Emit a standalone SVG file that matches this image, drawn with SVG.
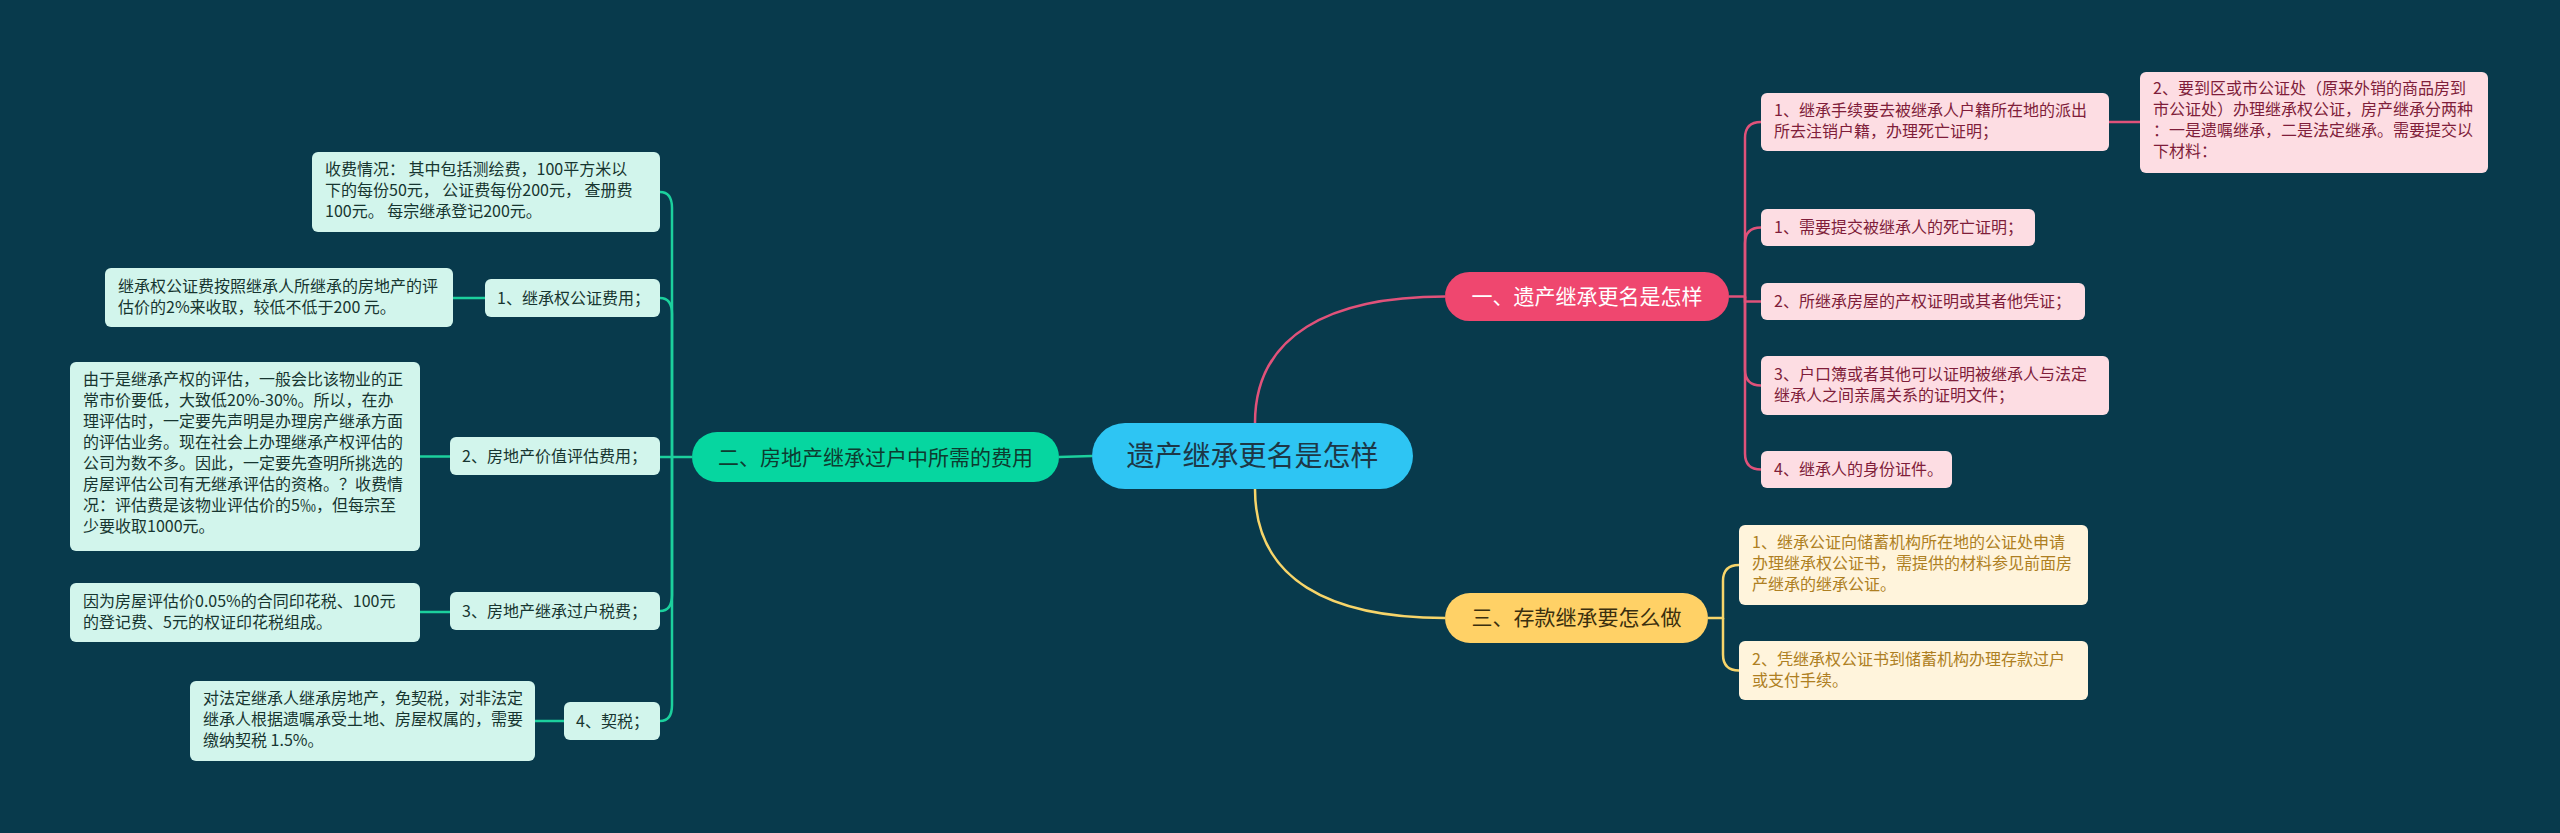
<svg xmlns="http://www.w3.org/2000/svg" width="2560" height="833" viewBox="0 0 2560 833">
<style>
text{font-family:"Noto Sans CJK SC","Noto Sans",sans-serif}
.t16{font-size:16px}
.pk{fill:#FDDDE3}
.pkt{fill:#7F1D3A}
.yl{fill:#FFF4DC}
.ylt{fill:#AE7F22}
.gr{fill:#D2F5EC}
.grt{fill:#173530}
.lp{fill:none;stroke:#E0527A;stroke-width:2.5}
.ly{fill:none;stroke:#F7D56A;stroke-width:2.5}
.lg{fill:none;stroke:#1CD09D;stroke-width:2.5}
</style>
<rect width="2560" height="833" fill="#083A4C"/>
<g id="connectors">
<path class="lp" d="M1255 423 C1255 335 1330 296.5 1445 296.5"/>
<path class="ly" d="M1255 489 C1255 580 1330 618 1445 618"/>
<path class="lg" d="M1092 456 L1059 457"/>
<path class="lp" d="M1729 296.5 H1745 V138 Q1745 122 1761 122"/>
<path class="lp" d="M1745 296.5 V243.5 Q1745 227.5 1761 227.5"/>
<path class="lp" d="M1745 296.5 V301.5 H1761"/>
<path class="lp" d="M1745 296.5 V369.5 Q1745 385.5 1761 385.5"/>
<path class="lp" d="M1745 296.5 V453.5 Q1745 469.5 1761 469.5"/>
<path class="lp" d="M2109 122 H2140"/>
<path class="ly" d="M1708 618 H1723 V581 Q1723 565 1739 565"/>
<path class="ly" d="M1723 618 V654.5 Q1723 670.5 1739 670.5"/>
<path class="lg" d="M692 457 H672 V208 Q672 192 660 192"/>
<path class="lg" d="M672 457 V314 Q672 298 660 298"/>
<path class="lg" d="M672 457 H660"/>
<path class="lg" d="M672 457 V595 Q672 611 660 611"/>
<path class="lg" d="M672 457 V705 Q672 721 660 721"/>
<path class="lg" d="M453 298 H485"/>
<path class="lg" d="M420 456.5 H450"/>
<path class="lg" d="M420 612 H450"/>
<path class="lg" d="M535 721 H564"/>
</g>
<g id="root">
<rect x="1092" y="423" width="321" height="66" rx="33" fill="#2EC5F3"/>
<text x="1252.5" y="466" font-size="28" text-anchor="middle" fill="#1D3746">遗产继承更名是怎样</text>
</g>
<g id="b1">
<rect x="1445" y="272" width="284" height="49" rx="24.5" fill="#EF476F"/>
<text x="1587" y="304" font-size="21" text-anchor="middle" fill="#FFFFFF">一、遗产继承更名是怎样</text>
</g>
<g id="b1c1">
<rect class="pk" x="1761" y="93" width="348" height="58" rx="6"/>
<text class="t16 pkt" x="1774" y="116">1、继承手续要去被继承人户籍所在地的派出</text>
<text class="t16 pkt" x="1774" y="137">所去注销户籍，办理死亡证明；</text>
</g>
<g id="b1c1a">
<rect class="pk" x="2140" y="72" width="348" height="101" rx="6"/>
<text class="t16 pkt" x="2153" y="94">2、要到区或市公证处（原来外销的商品房到</text>
<text class="t16 pkt" x="2153" y="115">市公证处）办理继承权公证，房产继承分两种</text>
<text class="t16 pkt" x="2153" y="136">：一是遗嘱继承，二是法定继承。需要提交以</text>
<text class="t16 pkt" x="2153" y="157">下材料：</text>
</g>
<g id="b1c2">
<rect class="pk" x="1761" y="209" width="274" height="37" rx="6"/>
<text class="t16 pkt" x="1774" y="233">1、需要提交被继承人的死亡证明；</text>
</g>
<g id="b1c3">
<rect class="pk" x="1761" y="283" width="324" height="37" rx="6"/>
<text class="t16 pkt" x="1774" y="307">2、所继承房屋的产权证明或其者他凭证；</text>
</g>
<g id="b1c4">
<rect class="pk" x="1761" y="356" width="348" height="59" rx="6"/>
<text class="t16 pkt" x="1774" y="380">3、户口簿或者其他可以证明被继承人与法定</text>
<text class="t16 pkt" x="1774" y="401">继承人之间亲属关系的证明文件；</text>
</g>
<g id="b1c5">
<rect class="pk" x="1761" y="451" width="191" height="37" rx="6"/>
<text class="t16 pkt" x="1774" y="475">4、继承人的身份证件。</text>
</g>
<g id="b3">
<rect x="1445" y="593" width="263" height="50" rx="25" fill="#FFD166"/>
<text x="1576.5" y="625" font-size="21" text-anchor="middle" fill="#3A2F0E">三、存款继承要怎么做</text>
</g>
<g id="b3c1">
<rect class="yl" x="1739" y="525" width="349" height="80" rx="6"/>
<text class="t16 ylt" x="1752" y="548">1、继承公证向储蓄机构所在地的公证处申请</text>
<text class="t16 ylt" x="1752" y="569">办理继承权公证书，需提供的材料参见前面房</text>
<text class="t16 ylt" x="1752" y="590">产继承的继承公证。</text>
</g>
<g id="b3c2">
<rect class="yl" x="1739" y="641" width="349" height="59" rx="6"/>
<text class="t16 ylt" x="1752" y="665">2、凭继承权公证书到储蓄机构办理存款过户</text>
<text class="t16 ylt" x="1752" y="686">或支付手续。</text>
</g>
<g id="b2">
<rect x="692" y="432" width="367" height="50" rx="25" fill="#06D6A0"/>
<text x="875.5" y="464.5" font-size="21" text-anchor="middle" fill="#0E3B30">二、房地产继承过户中所需的费用</text>
</g>
<g id="b2c0">
<rect class="gr" x="312" y="152" width="348" height="80" rx="6"/>
<text class="t16 grt" x="325" y="175">收费情况： 其中包括测绘费，100平方米以</text>
<text class="t16 grt" x="325" y="196">下的每份50元， 公证费每份200元， 查册费</text>
<text class="t16 grt" x="325" y="217">100元。 每宗继承登记200元。</text>
</g>
<g id="b2c1">
<rect class="gr" x="485" y="279" width="175" height="38" rx="6"/>
<text class="t16 grt" x="497" y="304">1、继承权公证费用；</text>
</g>
<g id="b2c1a">
<rect class="gr" x="105" y="268" width="348" height="59" rx="6"/>
<text class="t16 grt" x="118" y="292">继承权公证费按照继承人所继承的房地产的评</text>
<text class="t16 grt" x="118" y="313">估价的2%来收取，较低不低于200 元。</text>
</g>
<g id="b2c2">
<rect class="gr" x="450" y="437" width="210" height="38" rx="6"/>
<text class="t16 grt" x="462" y="462">2、房地产价值评估费用；</text>
</g>
<g id="b2c2a">
<rect class="gr" x="70" y="362" width="350" height="189" rx="6"/>
<text class="t16 grt" x="83" y="385">由于是继承产权的评估，一般会比该物业的正</text>
<text class="t16 grt" x="83" y="406">常市价要低，大致低20%-30%。所以，在办</text>
<text class="t16 grt" x="83" y="427">理评估时，一定要先声明是办理房产继承方面</text>
<text class="t16 grt" x="83" y="448">的评估业务。现在社会上办理继承产权评估的</text>
<text class="t16 grt" x="83" y="469">公司为数不多。因此，一定要先查明所挑选的</text>
<text class="t16 grt" x="83" y="490">房屋评估公司有无继承评估的资格。？收费情</text>
<text class="t16 grt" x="83" y="511">况：评估费是该物业评估价的5‰，但每宗至</text>
<text class="t16 grt" x="83" y="532">少要收取1000元。</text>
</g>
<g id="b2c3">
<rect class="gr" x="450" y="592" width="210" height="38" rx="6"/>
<text class="t16 grt" x="462" y="617">3、房地产继承过户税费；</text>
</g>
<g id="b2c3a">
<rect class="gr" x="70" y="583" width="350" height="59" rx="6"/>
<text class="t16 grt" x="83" y="607">因为房屋评估价0.05%的合同印花税、100元</text>
<text class="t16 grt" x="83" y="628">的登记费、5元的权证印花税组成。</text>
</g>
<g id="b2c4">
<rect class="gr" x="564" y="702" width="96" height="38" rx="6"/>
<text class="t16 grt" x="576" y="727">4、契税；</text>
</g>
<g id="b2c4a">
<rect class="gr" x="190" y="681" width="345" height="80" rx="6"/>
<text class="t16 grt" x="203" y="704">对法定继承人继承房地产，免契税，对非法定</text>
<text class="t16 grt" x="203" y="725">继承人根据遗嘱承受土地、房屋权属的，需要</text>
<text class="t16 grt" x="203" y="746">缴纳契税 1.5%。</text>
</g>
</svg>
